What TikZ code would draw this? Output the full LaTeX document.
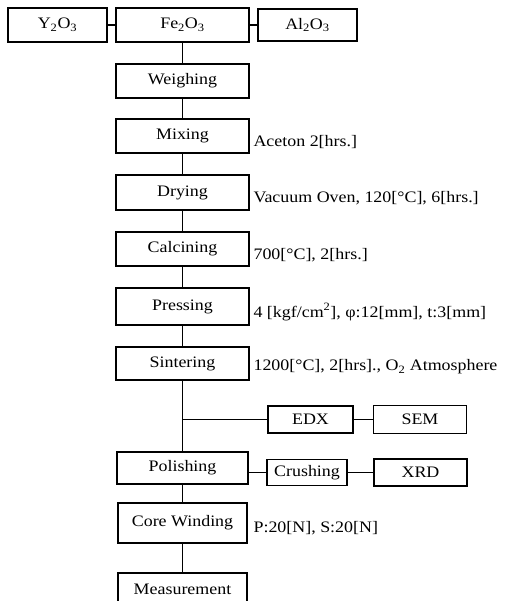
\documentclass[tikz,border=0pt]{standalone}
\usepackage{fontspec}
\setmainfont{Liberation Serif}[FakeStretch=1.12]
\usepackage{tikz}
\usetikzlibrary{positioning}

\begin{document}
\begin{tikzpicture}[
  x=1pt, y=-1pt,
  font=\fontsize{16}{18}\selectfont,
  line width=1.1pt,
  box/.style ={draw,inner sep=0pt,minimum width=133,minimum height=34},
  sbox/.style={draw,inner sep=0pt,minimum width=93,minimum height=27},
  note/.style={anchor=west,inner sep=0pt}]
\useasboundingbox (0,0) rectangle (507,601);

%---------------- raw materials ----------------
\node[box, minimum width=99] (y2o3)  at (57.5,25)  {Y\textsubscript{2}O\textsubscript{3}};
\node[box]                   (fe2o3) at (182.5,25) {Fe\textsubscript{2}O\textsubscript{3}};
\node[box, minimum width=99, minimum height=32] (al2o3) at (307.5,25) {Al\textsubscript{2}O\textsubscript{3}};
\draw (y2o3)--(fe2o3); \draw (fe2o3)--(al2o3);

%---------------- process column ----------------
\node[box] (weigh)  at (182.5,81)    {Weighing};
\node[box] (mix)    at (182.5,136)   {Mixing};
\node[box, minimum height=35] (dry)  at (182.5,192.5) {Drying};
\node[box] (calc)   at (182.5,249)   {Calcining};
\node[box, minimum height=37] (press) at (182.5,306.5) {Pressing};
\node[box, minimum height=33] (sinter) at (182.5,363.5) {Sintering};
\node[box, minimum width=131, minimum height=32] (polish) at (182.5,468) {Polishing};
\node[box, minimum width=129, minimum height=40] (wind) at (182.5,523) {Core Winding};
\node[box, minimum width=129, minimum height=32] (meas) at (182.5,589) {Measurement};
\draw (fe2o3)--(weigh); \draw (weigh)--(mix); \draw (mix)--(dry);
\draw (dry)--(calc); \draw (calc)--(press); \draw (press)--(sinter);
\draw (sinter)--(polish); \draw (polish)--(wind); \draw (wind)--(meas);

%---------------- conditions ----------------
\node[note] (n-mix)    at (253,142) {Aceton 2[hrs.]};
\node[note] (n-dry)    at (253,198) {Vacuum Oven, 120[\textdegree{}C], 6[hrs.]};
\node[note] (n-calc)   at (253,255) {700[\textdegree{}C], 2[hrs.]};
\node[note] (n-press)  at (253,312) {4 [kgf/cm\textsuperscript{2}], φ:12[mm], t:3[mm]};
\node[note] (n-sinter) at (253,367) {1200[\textdegree{}C], 2[hrs].,\ O\textsubscript{2} Atmosphere};
\node[note] (n-wind)   at (253,528) {P:20[N], S:20[N]};

%---------------- analysis branches ----------------
\node[sbox, minimum width=85] (edx) at (310.5,419.5) {EDX};
\node[sbox, minimum height=28] (sem) at (420,419.5) {SEM};
\coordinate (br) at (sinter.south |- edx.west);
\draw (br)--(edx); \draw (edx)--(sem);

\node[sbox, minimum width=80, minimum height=26] (crush) at (307,472.5) {Crushing};
\node[sbox] (xrd) at (420.5,472.5) {XRD};
\draw (crush.west -| polish.east)--(crush); \draw (crush)--(xrd);

\end{tikzpicture}
\end{document}
